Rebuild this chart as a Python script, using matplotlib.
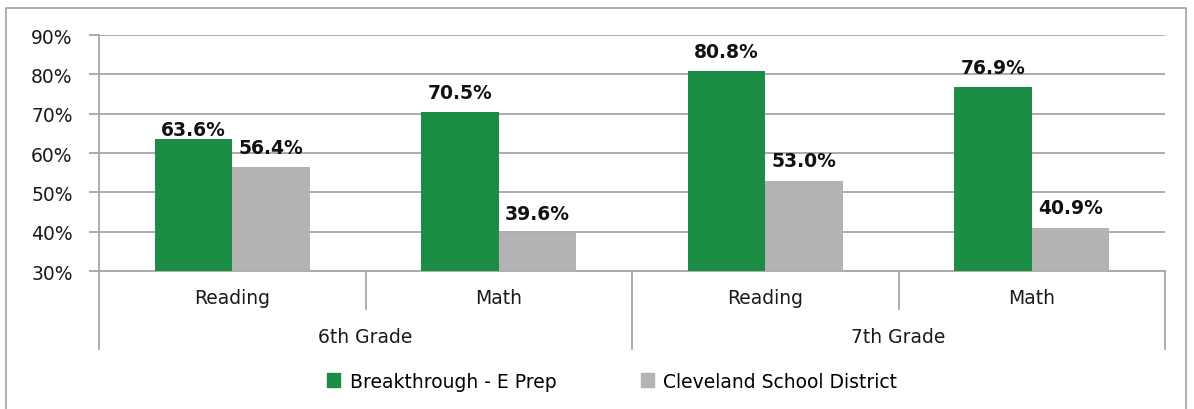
import matplotlib
matplotlib.use("Agg")
import matplotlib.pyplot as plt
from matplotlib.patches import Rectangle, Patch
import numpy as np

subjects = ["Reading", "Math", "Reading", "Math"]
grades = ["6th Grade", "7th Grade"]
series_names = ["Breakthrough - E Prep", "Cleveland School District"]
breakthrough = [63.6, 70.5, 80.8, 76.9]
cleveland = [56.4, 39.6, 53.0, 40.9]
yticks = [30, 40, 50, 60, 70, 80, 90]

GREEN = "#1b8d45"
GREY = "#b3b3b3"
LINE = "#a6a6a6"
TXT = "#1a1a1a"
FS = 13.5
plt.rcParams['font.family'] = ['DejaVu Sans']

fig = plt.figure(figsize=(11.94, 4.10), dpi=100)
fig.patches.append(Rectangle((6/1194, -0.01), (1186-6)/1194, 1 - 9/410 + 0.01,
                             transform=fig.transFigure, fill=False,
                             edgecolor="#a0a0a0", linewidth=1.2))
ax = fig.add_axes([99/1194, 1-272/410, (1165-99)/1194, (272-36)/410])

x = np.arange(len(subjects))
w = 0.29
ax.bar(x - w/2, np.array(breakthrough) - 30, w, bottom=30, color=GREEN, label=series_names[0], zorder=3)
ax.bar(x + w/2, np.array(cleveland) - 30, w, bottom=30, color=GREY, label=series_names[1], zorder=3)

for i, (xi, v) in enumerate(zip(x - w/2, breakthrough)):
    off = 7 if i == 0 else 14
    ax.annotate(f"{v:.1f}%", (xi, v), xytext=(0, off), textcoords="offset points",
                ha="center", va="center", fontsize=13.5, fontweight="bold", color="#111111")
for xi, v in zip(x + w/2, cleveland):
    ax.annotate(f"{v:.1f}%", (xi, v), xytext=(0, 14.5), textcoords="offset points",
                ha="center", va="center", fontsize=13.5, fontweight="bold", color="#111111")

ax.set_ylim(30, 90)
ax.set_xlim(-0.5, 3.5)
ax.set_yticks(yticks)
ax.set_yticklabels([f"{t}%" for t in yticks], fontsize=FS, color=TXT)
ax.yaxis.grid(True, color=LINE, linewidth=1.3, zorder=0)
ax.set_axisbelow(True)
ax.tick_params(axis="y", length=7, width=1.3, color=LINE, pad=12)
ax.set_xticks([])
for s in ["top", "right"]:
    ax.spines[s].set_visible(False)
ax.spines["left"].set_visible(False)
ax.spines["bottom"].set_color(LINE)
ax.spines["bottom"].set_linewidth(1.3)

tr = ax.get_xaxis_transform()
H = 236.0
def yy(px):
    return (272 - px) / H

ax.plot([-0.5, -0.5], [1, yy(350)], transform=tr, color=LINE, lw=1.3, clip_on=False)
for b in [0.5, 2.5]:
    ax.plot([b, b], [0, yy(310)], transform=tr, color=LINE, lw=1.3, clip_on=False)
for b in [1.5, 3.5]:
    ax.plot([b, b], [0, yy(350)], transform=tr, color=LINE, lw=1.3, clip_on=False)

for xi, s in zip(x, subjects):
    ax.text(xi, yy(298), s, transform=tr, ha="center", va="center", fontsize=FS, color=TXT)
for gi, g in enumerate(grades):
    ax.text(0.5 + 2*gi, yy(338), g, transform=tr, ha="center", va="center", fontsize=FS, color=TXT)

handles = [Patch(color=GREEN), Patch(color=GREY)]
fig.legend(handles, series_names, loc="center", bbox_to_anchor=(612/1194, 1-382/410),
           ncol=2, frameon=False, fontsize=FS, handlelength=0.7, handleheight=0.7,
           handletextpad=0.5, columnspacing=4.5)

fig.savefig("out.png", dpi=100)
